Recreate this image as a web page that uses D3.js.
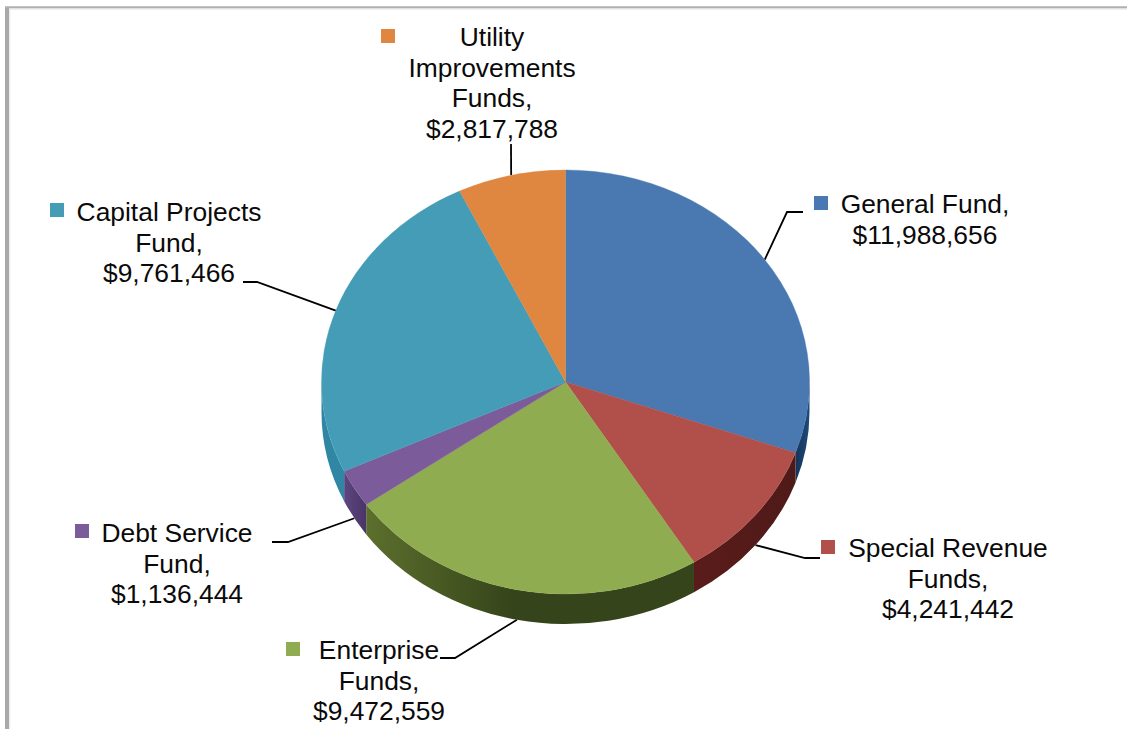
<!DOCTYPE html>
<html>
<head>
<meta charset="utf-8">
<script src="https://cdn.jsdelivr.net/npm/d3@7"></script>
<style>
  html, body { margin: 0; padding: 0; background: #fff; }
  svg { display: block; }
  text { font-family: "Liberation Sans", Arial, sans-serif; font-size: 26.4px; fill: #0a0a0a; }
</style>
</head>
<body>
<div id="chart"></div>
<script>
// Fund revenue totals, clockwise from twelve o'clock
const funds = ["General Fund", "Special Revenue Funds", "Enterprise Funds", "Debt Service Fund", "Capital Projects Fund", "Utility Improvements Funds"];
const amounts = [11988656, 4241442, 9472559, 1136444, 9761466, 2817788];
const labelLines = [
  ["General Fund,"],
  ["Special Revenue", "Funds,"],
  ["Enterprise", "Funds,"],
  ["Debt Service", "Fund,"],
  ["Capital Projects", "Fund,"],
  ["Utility", "Improvements", "Funds,"]
];
const topColors = ["#4a78b0", "#b14f4a", "#90ac50", "#7c5b9b", "#459cb6", "#df8740"];
// Side wall shading, left end then right end of each slice's visible wall
const wallColors = [
  ["#173456", "#1d4a7c"],
  ["#5a1c1a", "#4e1a18"],
  ["#5c6f2c", "#35441a"],
  ["#5e4580", "#4a3566"],
  ["#2f87a3", "#2f87a3"],
  ["#a8622a", "#a8622a"]
];

const width = 1127, height = 729;
const cx = 565.5, cy = 382, rx = 244, ry = 212, depth = 30;

// Label block layout: text centre, first baseline, key square, leader bend and tail
const layout = [
  { x: 925, y: 213, key: [814, 196], bend: [787, 212], tail: [803, 212] },
  { x: 948, y: 557, key: [821, 540], bend: [805, 558], tail: [820, 558], onWall: true },
  { x: 379, y: 659, key: [286, 642], bend: [455, 658], tail: [440, 658], onWall: true },
  { x: 177, y: 542, key: [75, 524], bend: [288, 542], tail: [272, 542], onWall: true },
  { x: 169, y: 221, key: [50, 203], bend: [257, 282], tail: [243, 282] },
  { x: 492, y: 46, key: [381, 29], bend: [511, 144], tail: [511, 144] }
];

const svg = d3.select("#chart").append("svg").attr("width", width).attr("height", height);

// Page frame along the left and top edges
const frame = svg.append("g").attr("fill", "none");
frame.append("path").attr("d", `M9.5,${height} V9 H${width}`).attr("stroke", "#ececec").attr("stroke-width", 1.5);
frame.append("path").attr("d", `M7,${height} V7.5`).attr("stroke", "#a9a9a9").attr("stroke-width", 4);
frame.append("path").attr("d", `M5,7.2 H${width}`).attr("stroke", "#b0b0b0").attr("stroke-width", 2);

const slices = d3.pie().sort(null).value(d => d)(amounts);
const rim = (a, dy = 0) => [cx + rx * Math.sin(a), cy - ry * Math.cos(a) + dy];

// Gradients for the side walls
const defs = svg.append("defs");
wallColors.forEach((c, i) => {
  const g = defs.append("linearGradient").attr("id", `wall-${i}`);
  g.append("stop").attr("offset", "0%").attr("stop-color", c[0]);
  g.append("stop").attr("offset", i === 2 ? "45%" : "100%").attr("stop-color", c[1]);
});

// Leader lines run beneath the pie so they appear to leave its rim
svg.append("g").selectAll("path").data(slices).join("path")
  .attr("fill", "none").attr("stroke", "#000").attr("stroke-width", 1.8)
  .attr("d", (s, i) => {
    const mid = (s.startAngle + s.endAngle) / 2;
    const l = layout[i];
    return d3.line()([rim(mid, l.onWall ? depth : 0), l.bend, l.tail]);
  });

// Side walls: only the part of each slice on the near half of the ellipse
const nearStart = Math.PI / 2, nearEnd = 3 * Math.PI / 2;
svg.append("g").selectAll("path").data(slices).join("path")
  .attr("fill", (s, i) => `url(#wall-${i})`)
  .attr("d", s => {
    const a0 = Math.max(s.startAngle, nearStart), a1 = Math.min(s.endAngle, nearEnd);
    if (a1 <= a0) return null;
    const p0 = rim(a0), p1 = rim(a1), q0 = rim(a0, depth), q1 = rim(a1, depth);
    const big = a1 - a0 > Math.PI ? 1 : 0;
    return `M${p0} A${rx},${ry} 0 ${big} 1 ${p1} L${q1} A${rx},${ry} 0 ${big} 0 ${q0} Z`;
  });

// Top face: a circular pie squashed into an ellipse
const arc = d3.arc().innerRadius(0).outerRadius(rx);
svg.append("g")
  .attr("transform", `translate(${cx},${cy}) scale(1,${ry / rx})`)
  .selectAll("path").data(slices).join("path")
  .attr("d", arc)
  .attr("fill", (s, i) => topColors[i])
  .attr("stroke", (s, i) => topColors[i])
  .attr("stroke-width", 0.4);

// Label keys and text
const money = d3.format("$,");
const labels = svg.append("g").selectAll("g").data(funds).join("g").attr("class", "label");
labels.append("rect")
  .attr("x", (d, i) => layout[i].key[0]).attr("y", (d, i) => layout[i].key[1])
  .attr("width", 14).attr("height", 14)
  .attr("fill", (d, i) => topColors[i]);
labels.append("text")
  .attr("text-anchor", "middle")
  .attr("y", (d, i) => layout[i].y)
  .each(function (d, i) {
    const t = d3.select(this);
    labelLines[i].concat(money(amounts[i])).forEach((line, k) => {
      t.append("tspan").attr("x", layout[i].x).attr("y", layout[i].y + k * 30.5).text(line);
    });
  });
</script>
</body>
</html>
